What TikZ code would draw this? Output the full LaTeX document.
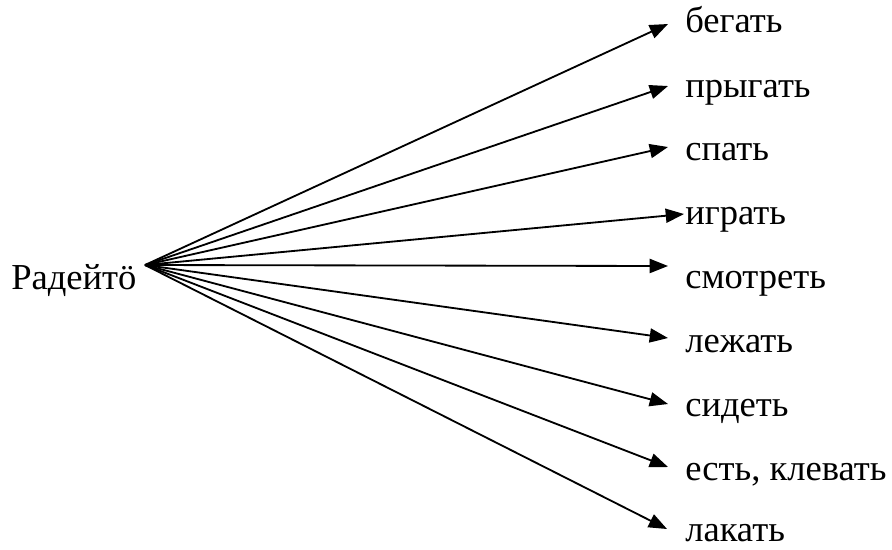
\documentclass[tikz,border=0pt]{standalone}
\usepackage{fontspec}
\setmainfont{Liberation Serif}
\usepackage{tikz}
\usetikzlibrary{arrows.meta}
\tikzset{
  base/.style={draw=black, line width=1.3pt, -{Triangle[length=13pt,width=10pt]}},
  lab/.style={text=black, font=\fontsize{26}{31}\selectfont, inner sep=0pt},
}

\begin{document}
\begin{tikzpicture}[x=0.025cm,y=-0.025cm]
  \useasboundingbox (0,0) rectangle (892,549);

  \node[lab, anchor=base west] (R) at (11,289) {Радейтӧ};
  \coordinate (O) at (145,265);

  \node[lab, anchor=base west] (w1) at (685,32) {бегать};
  \node[lab, anchor=base west] (w2) at (685,97) {прыгать};
  \node[lab, anchor=base west] (w3) at (685,160) {спать};
  \node[lab, anchor=base west] (w4) at (685,224) {играть};
  \node[lab, anchor=base west] (w5) at (685,288) {смотреть};
  \node[lab, anchor=base west] (w6) at (685,352) {лежать};
  \node[lab, anchor=base west] (w7) at (685,416) {сидеть};
  \node[lab, anchor=base west] (w8) at (685,480) {есть, клевать};
  \node[lab, anchor=base west] (w9) at (685,541) {лакать};

  \coordinate (t1) at (668,24);
  \coordinate (t2) at (668,86);
  \coordinate (t3) at (668,147);
  \coordinate (t4) at (684,214);
  \coordinate (t5) at (668,266);
  \coordinate (t6) at (668,338);
  \coordinate (t7) at (668,404);
  \coordinate (t8) at (668,467);
  \coordinate (t9) at (667,529);

  \draw[base] (O) -- (t1);
  \draw[base] (O) -- (t2);
  \draw[base] (O) -- (t3);
  \draw[base] (O) -- (t4);
  \draw[base] (O) -- (t5);
  \draw[base] (O) -- (t6);
  \draw[base] (O) -- (t7);
  \draw[base] (O) -- (t8);
  \draw[base] (O) -- (t9);
\end{tikzpicture}
\end{document}
